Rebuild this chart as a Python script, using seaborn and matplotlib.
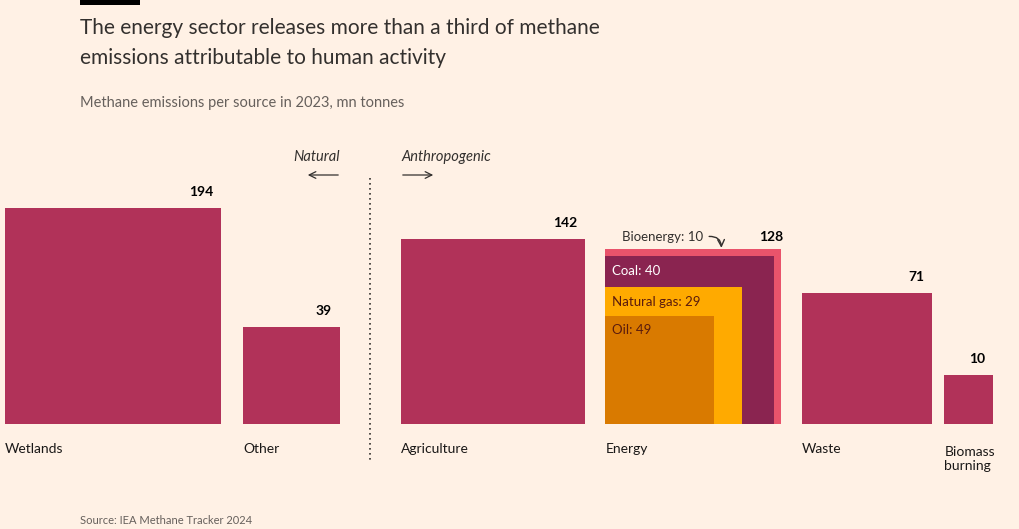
import numpy as np
import pandas as pd
import matplotlib.pyplot as plt
import seaborn as sns

# =========================
# DATA
# =========================
sources = ["Wetlands", "Other", "Agriculture", "Energy", "Waste", "Biomass\nburning"]
emissions = [194, 39, 142, 128, 71, 10]

energy_parts = ["Oil", "Natural gas", "Coal", "Bioenergy"]
energy_values = [49, 29, 40, 10]

# =========================
# LAYOUT / STYLE
# =========================
W, H = 1020, 529
BASE = 424          # pixel row of the square bottoms
SCALE = 15.5        # px per sqrt(mn tonnes)
gaps = [5, 22, 61, 20, 21, 12]   # space before each square

BG = "#FFF1E5"
MAIN = "#B13259"
energy_colors = ["#D97A00", "#FFAA00", "#8A2450", "#E9536B"]
energy_text = ["#5A1B0E", "#5A1B0E", "white", "#33302E"]
INK = "#33302E"
GREY = "#66605C"

sns.set_theme(style="white")
plt.rcParams["font.family"] = ["Lato", "DejaVu Sans"]

df = pd.DataFrame({"source": sources, "value": emissions})
df["side"] = np.sqrt(df["value"]) * SCALE
df["left"] = np.cumsum(gaps) + np.concatenate([[0], np.cumsum(df["side"].values[:-1])])

fig = plt.figure(figsize=(W / 100, H / 100), dpi=100, facecolor=BG)
ax = fig.add_axes([0, 0, 1, 1])
ax.set_xlim(0, W)
ax.set_ylim(H, 0)
ax.set_facecolor(BG)
ax.axis("off")

# main squares (energy drawn separately as nested squares)
for i, row in df.iterrows():
    if row["source"] == "Energy":
        continue
    ax.bar(row["left"], -row["side"], width=row["side"], bottom=BASE,
           align="edge", color=MAIN, linewidth=0)

# energy: nested squares, cumulative from oil outward
e = df[df["source"] == "Energy"].iloc[0]
cum = np.cumsum(energy_values)
for k in range(len(energy_parts) - 1, -1, -1):
    side = np.sqrt(cum[k]) * SCALE
    ax.bar(e["left"], -side, width=side, bottom=BASE, align="edge",
           color=energy_colors[k], linewidth=0)

for k in range(len(energy_parts) - 1):
    top = BASE - np.sqrt(cum[k]) * SCALE
    ax.text(e["left"] + 7, top + 15, f"{energy_parts[k]}: {energy_values[k]}",
            fontsize=9.5, color=energy_text[k], va="center", ha="left")

# bioenergy label with curved arrow
top_e = BASE - e["side"]
ax.text(e["left"] + 17, top_e - 12, f"{energy_parts[3]}: {energy_values[3]}",
        fontsize=9.5, color=INK, va="center", ha="left")
ax.annotate("", xy=(e["left"] + 116, top_e + 2), xytext=(e["left"] + 101, top_e - 12),
            arrowprops=dict(arrowstyle="->", color=INK, lw=1,
                            connectionstyle="arc3,rad=-0.6"))

# value labels & category labels
for i, row in df.iterrows():
    right = row["left"] + row["side"]
    top = BASE - row["side"]
    if row["source"] == "Energy":
        ax.text(right + 2, top - 12, str(row["value"]), fontsize=10,
                fontweight="bold", color="black", ha="right", va="center")
    else:
        ax.text(right - 8, top - 16, str(row["value"]), fontsize=10,
                fontweight="bold", color="black", ha="right", va="center")
    if "\n" in row["source"]:
        ax.text(row["left"], BASE + 22, row["source"], fontsize=10,
                color="#1A1817", ha="left", va="top", linespacing=1.2)
    else:
        ax.text(row["left"], BASE + 25, row["source"], fontsize=10,
                color="#1A1817", ha="left", va="center")

# natural / anthropogenic divider
ax.plot([370, 370], [178, 460], color=INK, lw=1.2, ls=(0, (1, 2)))
ax.text(340, 157, "Natural", fontsize=10.5, style="italic", color=INK, ha="right", va="center")
ax.text(401, 157, "Anthropogenic", fontsize=10.5, style="italic", color=INK, ha="left", va="center")
ax.annotate("", xy=(305, 175), xytext=(341, 175),
            arrowprops=dict(arrowstyle="->", color=INK, lw=0.9))
ax.annotate("", xy=(436, 175), xytext=(400, 175),
            arrowprops=dict(arrowstyle="->", color=INK, lw=0.9))

# titles
ax.add_patch(plt.Rectangle((80, 0), 60, 4.5, color="black", lw=0))
ax.text(80, 28, "The energy sector releases more than a third of methane",
        fontsize=15, color=INK, ha="left", va="center")
ax.text(80, 58, "emissions attributable to human activity",
        fontsize=15, color=INK, ha="left", va="center")
ax.text(80, 103, "Methane emissions per source in 2023, mn tonnes",
        fontsize=10.5, color=GREY, ha="left", va="center")
ax.text(80, 521, "Source: IEA Methane Tracker 2024",
        fontsize=8, color=GREY, ha="left", va="center")

fig.savefig("out.png", dpi=100, facecolor=BG)
